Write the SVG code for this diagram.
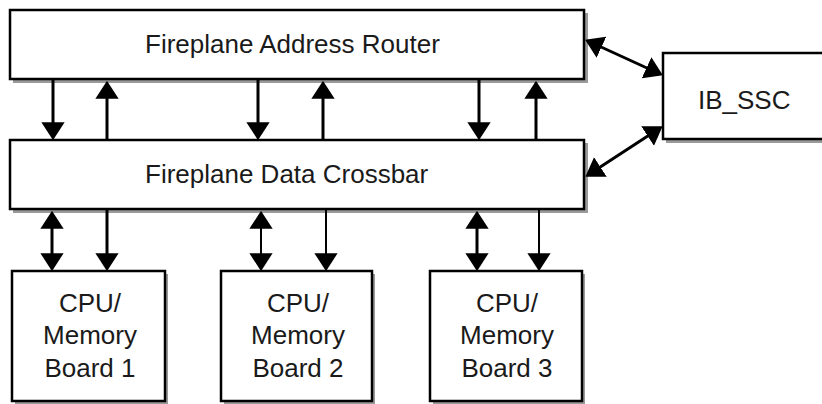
<svg xmlns="http://www.w3.org/2000/svg" width="822" height="404" viewBox="0 0 822 404">
<style>
.shadow{fill:#9a9a9a;stroke:none}
.box{fill:#fff;stroke:#000;stroke-width:2.5}
.lbl{font-family:"Liberation Sans",Arial,sans-serif;font-size:26px;fill:#1a1a1a}
.c{text-anchor:middle}
.w{fill:none;stroke:#000;stroke-width:3}
.t{fill:none;stroke:#000;stroke-width:2}
</style>
<defs>
<marker id="ah" markerUnits="userSpaceOnUse" markerWidth="18" markerHeight="24" viewBox="0 0 17 22" refX="14" refY="11" orient="auto-start-reverse">
<path d="M0,0 L17,11 L0,22 z" fill="#000"/>
</marker>
</defs>
<g id="address-router">
<rect class="shadow" x="13" y="13" width="575" height="70"/>
<rect class="box" x="10" y="10" width="574" height="69"/>
<text class="lbl" x="145" y="53">Fireplane Address Router</text>
</g>
<g id="data-crossbar">
<rect class="shadow" x="13" y="143" width="575" height="70"/>
<rect class="box" x="10" y="140" width="574" height="69"/>
<text class="lbl" x="145" y="183">Fireplane Data Crossbar</text>
</g>
<g id="ib-ssc">
<rect class="shadow" x="666" y="56" width="170" height="87"/>
<rect class="box" x="663" y="53" width="170" height="86"/>
<text class="lbl" x="698" y="109">IB_SSC</text>
</g>
<g id="board1">
<rect class="shadow" x="15" y="274" width="153" height="131"/>
<rect class="box" x="12" y="271" width="153" height="130"/>
<text class="lbl c" x="90" y="312">CPU/</text>
<text class="lbl c" x="90" y="344">Memory</text>
<text class="lbl c" x="90" y="377">Board 1</text>
</g>
<g id="board2">
<rect class="shadow" x="224" y="274" width="151" height="131"/>
<rect class="box" x="221" y="271" width="151" height="130"/>
<text class="lbl c" x="298" y="312">CPU/</text>
<text class="lbl c" x="298" y="344">Memory</text>
<text class="lbl c" x="298" y="377">Board 2</text>
</g>
<g id="board3">
<rect class="shadow" x="433" y="274" width="152" height="131"/>
<rect class="box" x="430" y="271" width="152" height="130"/>
<text class="lbl c" x="507" y="312">CPU/</text>
<text class="lbl c" x="507" y="344">Memory</text>
<text class="lbl c" x="507" y="377">Board 3</text>
</g>
<g id="connectors">
<line class="w" x1="53" y1="80" x2="53" y2="137" marker-end="url(#ah)"/>
<line class="w" x1="107" y1="140" x2="107" y2="84" marker-end="url(#ah)"/>
<line class="w" x1="258" y1="80" x2="258" y2="137" marker-end="url(#ah)"/>
<line class="w" x1="323" y1="140" x2="323" y2="84" marker-end="url(#ah)"/>
<line class="w" x1="479" y1="80" x2="479" y2="137" marker-end="url(#ah)"/>
<line class="w" x1="536" y1="140" x2="536" y2="84" marker-end="url(#ah)"/>
<line class="w" x1="52" y1="214" x2="52" y2="268" marker-start="url(#ah)" marker-end="url(#ah)"/>
<line class="w" x1="107" y1="210" x2="107" y2="268" marker-end="url(#ah)"/>
<line class="t" x1="261" y1="214" x2="261" y2="268" marker-start="url(#ah)" marker-end="url(#ah)"/>
<line class="t" x1="326" y1="210" x2="326" y2="268" marker-end="url(#ah)"/>
<line class="w" x1="477" y1="214" x2="477" y2="268" marker-start="url(#ah)" marker-end="url(#ah)"/>
<line class="t" x1="539" y1="210" x2="539" y2="268" marker-end="url(#ah)"/>
<line class="w" x1="588" y1="41" x2="660" y2="74" marker-start="url(#ah)" marker-end="url(#ah)"/>
<line class="w" x1="588" y1="175" x2="660" y2="128" marker-start="url(#ah)" marker-end="url(#ah)"/>
</g>
</svg>
